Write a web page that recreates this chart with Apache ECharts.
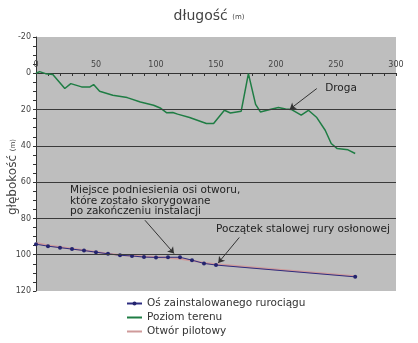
<!DOCTYPE html>
<html>
<head>
<meta charset="utf-8">
<script src="https://cdn.jsdelivr.net/npm/echarts@6/dist/echarts.min.js"></script>
<style>
  html, body { margin: 0; padding: 0; background: #fff; }
  #chart { width: 418px; height: 343px; }
</style>
</head>
<body>
<div id="chart"></div>
<script>
const FONT = 'DejaVu Sans'

// terrain profile (Poziom terenu): distance m, depth m
const terrainDist = [0, 3, 8, 14, 24, 29, 38, 45, 48, 53, 64, 76, 87, 98, 104, 109, 114, 118, 128, 142, 148, 157, 162, 171, 177, 183, 187, 195, 202, 208, 213, 221, 227, 234, 241, 246, 251, 260, 266]
const terrainDepth = [0, -0.9, 0.2, 0.7, 8.4, 5.7, 7.5, 7.5, 6.2, 9.9, 12.1, 13.4, 15.8, 17.6, 19.3, 21.8, 21.6, 22.5, 24.4, 27.7, 27.7, 20.4, 21.9, 20.9, 0.2, 17.1, 21.3, 20, 18.9, 19.7, 20, 23.1, 20.4, 24.4, 31.4, 38.7, 41.5, 42.2, 44.2]

// installed pipe axis (Oś zainstalowanego rurociągu)
const pipeDist = [0, 10, 20, 30, 40, 50, 60, 70, 80, 90, 100, 110, 120, 130, 140, 150, 266]
const pipeDepth = [94.2, 95.3, 96.1, 96.9, 97.7, 98.6, 99.5, 100.3, 100.7, 101.3, 101.5, 101.4, 101.4, 103.0, 104.8, 105.7, 112.2]

// pilot bore (Otwór pilotowy)
const pilotDist = [0, 10, 20, 30, 40, 50, 60, 70, 80, 90, 100, 110, 120, 130, 140, 150, 200, 266]
const pilotDepth = [93.6, 94.9, 95.8, 96.7, 97.6, 98.5, 99.4, 100.1, 100.6, 101.0, 101.3, 101.7, 102.2, 103.2, 104.5, 105.3, 108.1, 111.8]

const gridDepths = [20, 40, 60, 80, 100]

const seriesNames = ['Oś zainstalowanego rurociągu', 'Poziom terenu', 'Otwór pilotowy']

// annotations: text anchor and arrow [from, to]
const notes = [
  { text: 'Droga', at: [241, 8.3], arrow: [[234, 8.4], [211.5, 19.8]] },
  { text: 'Miejsce podniesienia osi otworu,\nktóre zostało skorygowane\npo zakończeniu instalacji', at: [28.3, 70.5], arrow: [[90.8, 81], [115, 99.3]] },
  { text: 'Początek stalowej rury osłonowej', at: [150, 86.1], arrow: [[169.4, 90.5], [151.9, 104.5]] }
]

const zip = (xs, ys) => xs.map((x, i) => [x, ys[i]])

const chart = echarts.init(document.getElementById('chart'), null, { renderer: 'canvas' })

chart.setOption({
  animation: false,
  textStyle: { fontFamily: FONT },
  title: {
    text: 'długość {u|(m)}',
    left: 'center',
    top: 4,
    textStyle: {
      fontFamily: FONT,
      fontSize: 14,
      fontWeight: 'normal',
      color: '#444',
      rich: { u: { fontSize: 7, color: '#444', fontFamily: FONT, padding: [2, 0, 0, 0] } }
    }
  },
  grid: {
    left: 36, right: 22, top: 37, bottom: 52,
    show: true,
    backgroundColor: '#bebebe',
    borderWidth: 0
  },
  legend: {
    data: [
      { name: seriesNames[0] },
      { name: seriesNames[1], itemStyle: { opacity: 0 } },
      { name: seriesNames[2], itemStyle: { opacity: 0 } }
    ],
    orient: 'vertical',
    left: 126,
    top: 297,
    padding: 0,
    itemWidth: 15,
    itemHeight: 5,
    itemGap: 1,
    textStyle: { fontFamily: FONT, fontSize: 10.5, lineHeight: 13, color: '#333' }
  },
  xAxis: {
    type: 'value',
    min: 0,
    max: 300,
    interval: 50,
    position: 'top',
    offset: -36,
    axisLine: { onZero: false, lineStyle: { color: '#333', width: 1 } },
    axisTick: { inside: true, length: 3, lineStyle: { color: '#333' } },
    minorTick: { show: true, splitNumber: 5, length: 3, lineStyle: { color: '#333' } },
    axisLabel: { fontSize: 8, color: '#444', margin: 4 },
    splitLine: { show: false }
  },
  yAxis: {
    type: 'value',
    inverse: true,
    min: -20,
    max: 120,
    interval: 20,
    axisLine: { show: true, onZero: false, lineStyle: { color: '#333', width: 1 } },
    axisTick: { show: true, length: 3, lineStyle: { color: '#333' } },
    minorTick: { show: true, splitNumber: 4, length: 3, lineStyle: { color: '#333' } },
    axisLabel: { fontSize: 8, color: '#444', margin: 5 },
    splitLine: { show: false }
  },
  graphic: [{
    type: 'text',
    x: 13,
    y: 177,
    rotation: Math.PI / 2,
    style: {
      text: 'głębokość {u|(m)}',
      fill: '#444',
      font: '12px "DejaVu Sans"',
      align: 'center',
      verticalAlign: 'middle',
      rich: { u: { fontSize: 7, fill: '#444', fontFamily: FONT } }
    }
  }],
  series: [
    {
      name: 'Otwór pilotowy',
      type: 'line',
      data: zip(pilotDist, pilotDepth),
      symbol: 'none',
      color: '#c99090',
      lineStyle: { color: '#cf9a9a', width: 2 },
      z: 2,
      markLine: {
        silent: true,
        symbol: 'none',
        label: { show: false },
        lineStyle: { color: '#3a3a3a', width: 1, type: 'solid' },
        data: gridDepths.map(v => ({ yAxis: v }))
      }
    },
    {
      name: 'Poziom terenu',
      type: 'line',
      data: zip(terrainDist, terrainDepth),
      symbol: 'none',
      color: '#1f7d44',
      lineStyle: { color: '#1f7d44', width: 1.5 },
      z: 3
    },
    {
      name: 'Oś zainstalowanego rurociągu',
      type: 'line',
      data: zip(pipeDist, pipeDepth),
      symbol: 'circle',
      symbolSize: 4,
      color: '#24246e',
      itemStyle: { color: '#24246e' },
      lineStyle: { color: '#2d2d80', width: 1 },
      z: 4,
      markLine: {
        silent: true,
        symbol: ['none', 'arrow'],
        symbolSize: 6,
        label: { show: false },
        lineStyle: { color: '#333', width: 1, type: 'solid' },
        data: notes.map(n => [{ coord: n.arrow[0] }, { coord: n.arrow[1] }])
      },
      markPoint: {
        silent: true,
        symbolSize: 0,
        data: notes.map(n => ({
          coord: n.at,
          label: {
            show: true,
            position: 'right',
            distance: 0,
            formatter: n.text,
            fontFamily: FONT,
            fontSize: 10.5,
            lineHeight: 10.5,
            color: '#222'
          }
        }))
      }
    }
  ]
})
</script>
</body>
</html>
